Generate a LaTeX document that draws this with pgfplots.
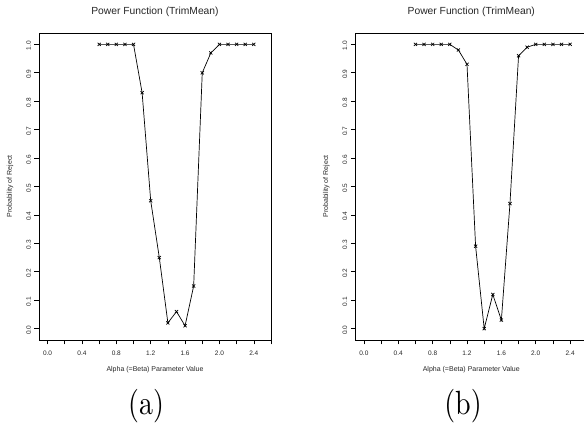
\documentclass[border=0pt]{standalone}
\usepackage{pgfplots}
\pgfplotsset{compat=1.18}
\usepackage{fontspec}
\newfontfamily\helv{Liberation Sans}
\newfontfamily\capfont{lmroman10-regular.otf}
\pgfplotsset{
  every axis title shift=0pt,
  rplot/.style={
    scale only axis, width=232pt, height=307pt,
    anchor=south west,
    xmin=-0.1, xmax=2.6, ymin=-0.04, ymax=1.04,
    xtick={0,0.2,0.4,0.6,0.8,1.0,1.2,1.4,1.6,1.8,2.0,2.2,2.4,2.6},
    xticklabels={0.0,,0.4,,0.8,,1.2,,1.6,,2.0,,2.4,},
    ytick={0,0.1,0.2,0.3,0.4,0.5,0.6,0.7,0.8,0.9,1.0},
    yticklabels={0.0,0.1,0.2,0.3,0.4,0.5,0.6,0.7,0.8,0.9,1.0},
    tick align=outside, major tick length=4.5pt,
    xtick pos=left, ytick pos=left,
    tick style={black, line width=0.6pt},
    axis line style={line width=0.8pt},
    /pgf/number format/assume math mode=true,
    ticklabel style={font=\helv\fontsize{6.5}{7}\selectfont, text=black!85},
    xticklabel style={yshift=-2.5pt},
    yticklabel style={rotate=90, anchor=south, xshift=-1.5pt},
    xlabel style={at={(axis description cs:0.5,-0.0954)}, anchor=center, font=\helv\fontsize{7}{8}\selectfont, text=black!85},
    ylabel style={at={(axis description cs:-0.125,0.5)}, anchor=center, rotate=0, font=\helv\fontsize{7}{8}\selectfont, text=black!85},
    title style={at={(axis description cs:0.5,1.068)}, anchor=center, font=\helv\fontsize{10.3}{12}\selectfont, text=black!85},
    title={Power Function (TrimMean)},
    xlabel={Alpha (=Beta) Parameter Value},
    ylabel={Probability of Reject},
  },
  rline/.style={black, line width=0.7pt, mark=x, mark size=2.2pt, mark options={line width=0.7pt}}
}
\begin{document}
\begin{tikzpicture}
\path[use as bounding box] (0,0) rectangle (584pt,427pt);
\begin{axis}[rplot, at={(39pt,87pt)}]
\addplot[rline] coordinates {
(0.6,1.00) (0.7,1.00) (0.8,1.00) (0.9,1.00) (1.0,1.00)
(1.1,0.83) (1.2,0.45) (1.3,0.25) (1.4,0.02) (1.5,0.06)
(1.6,0.01) (1.7,0.15) (1.8,0.90) (1.9,0.97) (2.0,1.00)
(2.1,1.00) (2.2,1.00) (2.3,1.00) (2.4,1.00)
};
\end{axis}
\begin{axis}[rplot, at={(355.3pt,87pt)}]
\addplot[rline] coordinates {
(0.6,1.00) (0.7,1.00) (0.8,1.00) (0.9,1.00) (1.0,1.00)
(1.1,0.98) (1.2,0.93) (1.3,0.29) (1.4,0.00) (1.5,0.12)
(1.6,0.03) (1.7,0.44) (1.8,0.96) (1.9,0.99) (2.0,1.00)
(2.1,1.00) (2.2,1.00) (2.3,1.00) (2.4,1.00)
};
\end{axis}
\node[anchor=base, transform shape, yscale=1.2, inner sep=0pt] at (146pt,12pt) {\capfont\fontsize{28}{28}\selectfont (a)};
\node[anchor=base, transform shape, yscale=1.2, inner sep=0pt] at (463pt,12pt) {\capfont\fontsize{28}{28}\selectfont (b)};
\end{tikzpicture}
\end{document}
